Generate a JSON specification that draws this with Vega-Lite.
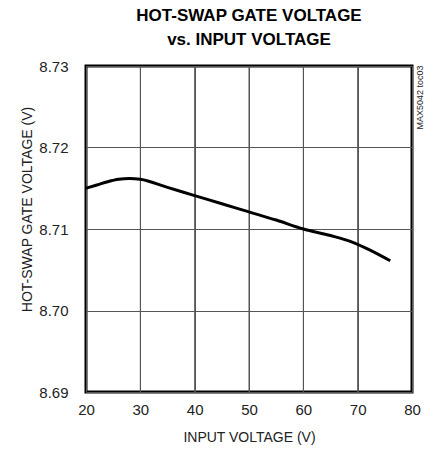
{
  "$schema": "https://vega.github.io/schema/vega-lite/v6.json",
  "autosize": "none",
  "width": 326,
  "height": 326,
  "padding": {"left": 86, "top": 66, "right": 21, "bottom": 62},
  "background": "white",
  "title": {
    "text": ["HOT-SWAP GATE VOLTAGE", "vs. INPUT VOLTAGE"],
    "font": "Liberation Sans",
    "fontWeight": "bold",
    "fontSize": 17,
    "lineHeight": 24,
    "color": "black",
    "anchor": "middle",
    "frame": "group",
    "offset": 10
  },
  "config": {
    "view": {"stroke": "black", "strokeWidth": 3},
    "axis": {
      "labelFont": "Liberation Sans",
      "titleFont": "Liberation Sans",
      "labelFontSize": 15,
      "titleFontSize": 14,
      "labelColor": "#222",
      "titleColor": "#222",
      "titleFontWeight": "normal",
      "domain": false,
      "ticks": false,
      "gridColor": "#555",
      "gridWidth": 1,
      "gridOpacity": 1
    }
  },
  "datasets": {
    "curve": [
      {"vin": 20, "vgate": 8.7150},
      {"vin": 22, "vgate": 8.7154},
      {"vin": 24, "vgate": 8.7158},
      {"vin": 26, "vgate": 8.7161},
      {"vin": 28, "vgate": 8.7162},
      {"vin": 30, "vgate": 8.7161},
      {"vin": 35, "vgate": 8.7151},
      {"vin": 40, "vgate": 8.7141},
      {"vin": 45, "vgate": 8.7131},
      {"vin": 50, "vgate": 8.7121},
      {"vin": 55, "vgate": 8.7111},
      {"vin": 60, "vgate": 8.7100},
      {"vin": 65, "vgate": 8.7092},
      {"vin": 69, "vgate": 8.7084},
      {"vin": 72, "vgate": 8.7075},
      {"vin": 76, "vgate": 8.7061}
    ],
    "xgrid": [
      {"vin": 30}, {"vin": 40}, {"vin": 50}, {"vin": 60}, {"vin": 70}
    ]
  },
  "layer": [
    {
      "data": {"name": "xgrid"},
      "mark": {"type": "rule", "color": "#555", "strokeWidth": 1},
      "encoding": {
        "x": {"field": "vin", "type": "quantitative"}
      }
    },
    {
      "data": {"name": "curve"},
      "mark": {"type": "line", "color": "black", "strokeWidth": 3, "interpolate": "monotone"},
      "encoding": {
        "x": {
          "field": "vin", "type": "quantitative",
          "scale": {"domain": [20, 80], "nice": false, "zero": false},
          "axis": {
            "values": [20, 30, 40, 50, 60, 70, 80],
            "grid": true,
            "labelFlush": false,
            "title": "INPUT VOLTAGE (V)",
            "labelPadding": 10,
            "titlePadding": 13
          }
        },
        "y": {
          "field": "vgate", "type": "quantitative",
          "scale": {"domain": [8.69, 8.73], "nice": false, "zero": false},
          "axis": {
            "values": [8.69, 8.70, 8.71, 8.72, 8.73],
            "grid": true,
            "format": ".2f",
            "title": "HOT-SWAP GATE VOLTAGE (V)",
            "labelPadding": 18,
            "labelBaseline": "middle",
            "titleBaseline": "alphabetic",
            "titleX": -55,
            "titleY": 143
          }
        }
      }
    },
    {
      "data": {"name": "curve"},
      "mark": {"type": "rule", "strokeOpacity": 0},
      "encoding": {
        "y": {
          "field": "vgate", "type": "quantitative",
          "axis": {
            "orient": "right",
            "grid": false,
            "labels": false,
            "title": "MAX5042 toc03",
            "titleFontSize": 9,
            "titleAngle": 270,
            "titleAlign": "right",
            "titleBaseline": "alphabetic",
            "titleX": 10,
            "titleY": -1
          }
        }
      }
    }
  ],
  "resolve": {"axis": {"y": "independent"}}
}
